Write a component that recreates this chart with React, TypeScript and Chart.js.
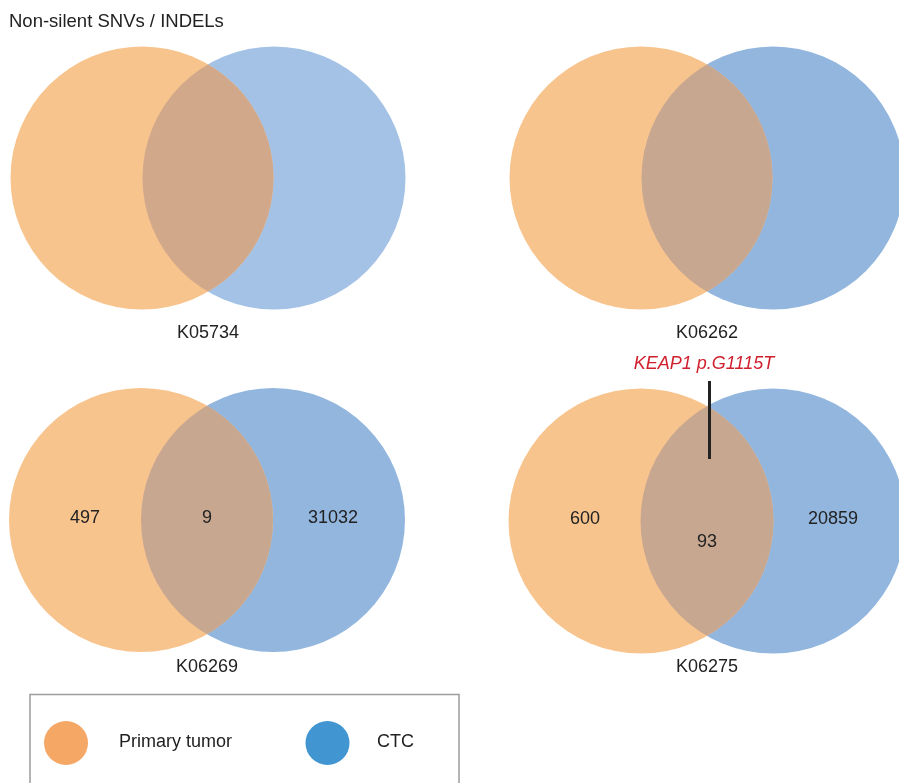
import React, { useEffect, useRef } from "react";
import { Chart, registerables } from "chart.js";

Chart.register(...registerables);

// ---- data ----
const panelNames = ["K05734", "K06262", "K06269", "K06275"];
const primaryCx = [142, 641, 141, 641];
const ctcCx = [274, 773, 273, 773];
const panelCy = [178, 178, 520, 521];
const circleR = [131.5, 131.5, 132, 132.5];
const onlyPrimary: (number | null)[] = [null, null, 497, 600];
const shared: (number | null)[] = [null, null, 9, 93];
const onlyCtc: (number | null)[] = [null, null, 31032, 20859];
const panelLabelY = [333, 333, 667, 667];
const sharedLabelDy = [0, 0, 0, 23];
const ctcColors = ["#a4c2e6", "#92b6de", "#92b6de", "#92b6de"];
const lensColors = ["#d1a98a", "#c8a790", "#c8a790", "#c8a790"];
const primaryColor = "#f8c48e";
const title = "Non-silent SNVs / INDELs";
const annotation = "KEAP1 p.G1115T";
const legendLabels = ["Primary tumor", "CTC"];
const legendColors = ["#f5a766", "#4196d1"];

const FONT = "'Liberation Sans', Arial, Helvetica, sans-serif";

export default function App() {
  const ref = useRef<HTMLCanvasElement | null>(null);

  useEffect(() => {
    document.body.style.margin = "0";
    const canvas = ref.current!;

    const overlayPlugin = {
      id: "vennOverlay",
      afterDatasetsDraw(chart: any) {
        const ctx = chart.ctx as CanvasRenderingContext2D;
        const m0 = chart.getDatasetMeta(0);
        const m1 = chart.getDatasetMeta(1);
        for (let i = 0; i < panelNames.length; i++) {
          const a = m0.data[i];
          const b = m1.data[i];
          const ra = a.options.radius;
          const rb = b.options.radius;
          ctx.save();
          ctx.beginPath();
          ctx.arc(a.x, a.y, ra, 0, Math.PI * 2);
          ctx.clip();
          ctx.beginPath();
          ctx.arc(b.x, b.y, rb, 0, Math.PI * 2);
          ctx.fillStyle = lensColors[i];
          ctx.fill();
          ctx.restore();
        }
      },
      afterDraw(chart: any) {
        const ctx = chart.ctx as CanvasRenderingContext2D;
        const xs = chart.scales.x;
        const ys = chart.scales.y;
        const px = (v: number) => xs.getPixelForValue(v);
        const py = (v: number) => ys.getPixelForValue(v);
        ctx.save();
        ctx.textBaseline = "middle";
        ctx.fillStyle = "#222";
        ctx.font = `18.5px ${FONT}`;
        ctx.textAlign = "left";
        ctx.fillText(title, px(9), py(22));

        ctx.textAlign = "center";
        ctx.font = `18px ${FONT}`;
        for (let i = 0; i < panelNames.length; i++) {
          const mid = (primaryCx[i] + ctcCx[i]) / 2;
          ctx.fillStyle = "#222";
          ctx.fillText(panelNames[i], px(mid), py(panelLabelY[i]));
          const cy = panelCy[i] - 2;
          if (onlyPrimary[i] !== null) {
            ctx.fillText(String(onlyPrimary[i]), px(primaryCx[i] - 56), py(cy));
          }
          if (shared[i] !== null) {
            ctx.fillText(String(shared[i]), px(mid), py(cy + sharedLabelDy[i]));
          }
          if (onlyCtc[i] !== null) {
            ctx.fillText(String(onlyCtc[i]), px(ctcCx[i] + 60), py(cy));
          }
        }

        // annotation in panel 4
        const mid4 = (primaryCx[3] + ctcCx[3]) / 2;
        ctx.fillStyle = "#d0202e";
        ctx.font = `italic 18px ${FONT}`;
        ctx.fillText(annotation, px(mid4 - 3), py(364));
        ctx.strokeStyle = "#222";
        ctx.lineWidth = 3;
        ctx.beginPath();
        ctx.moveTo(px(709.5), py(381));
        ctx.lineTo(px(709.5), py(459));
        ctx.stroke();

        // legend box
        ctx.strokeStyle = "#9c9c9c";
        ctx.lineWidth = 1.5;
        ctx.strokeRect(px(30), py(694.5), px(459) - px(30), py(800) - py(694.5));
        const lx = [66, 327.5];
        const tx = [119, 377];
        for (let k = 0; k < 2; k++) {
          ctx.beginPath();
          ctx.arc(px(lx[k]), py(743), 22, 0, Math.PI * 2);
          ctx.fillStyle = legendColors[k];
          ctx.fill();
          ctx.fillStyle = "#222";
          ctx.textAlign = "left";
          ctx.font = `18px ${FONT}`;
          ctx.fillText(legendLabels[k], px(tx[k]), py(742));
        }
        ctx.restore();
      },
    };

    const chart = new Chart(canvas, {
      type: "bubble",
      data: {
        datasets: [
          {
            label: "Primary tumor",
            data: primaryCx.map((x, i) => ({ x, y: panelCy[i], r: circleR[i] })),
            backgroundColor: primaryColor,
            borderWidth: 0,
            clip: false,
          },
          {
            label: "CTC",
            data: ctcCx.map((x, i) => ({ x, y: panelCy[i], r: circleR[i] })),
            backgroundColor: ctcColors,
            borderWidth: 0,
            clip: false,
          },
        ],
      },
      options: {
        responsive: false,
        animation: false,
        events: [],
        layout: { padding: 0, autoPadding: false },
        plugins: {
          legend: { display: false },
          tooltip: { enabled: false },
        },
        scales: {
          x: { type: "linear", min: 0, max: 899, display: false },
          y: { type: "linear", min: 0, max: 783, reverse: true, display: false },
        },
      },
      plugins: [overlayPlugin],
    });
    return () => chart.destroy();
  }, []);

  return (
    <div style={{ width: 899, height: 783, position: "relative" }}>
      <canvas ref={ref} width={899} height={783} style={{ display: "block" }} />
    </div>
  );
}
